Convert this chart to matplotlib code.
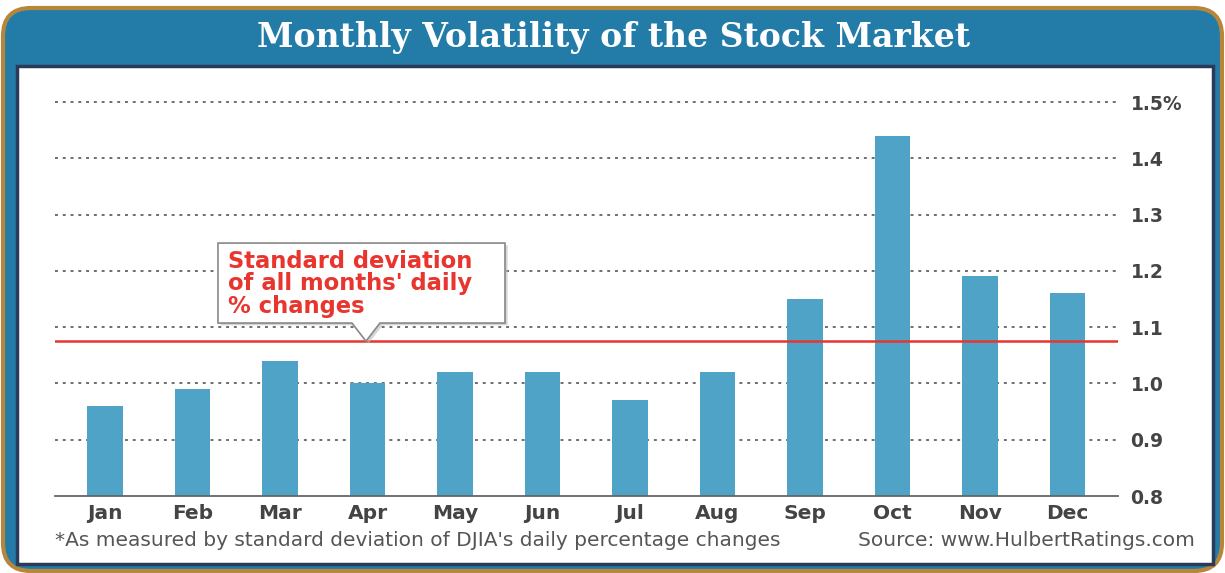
import matplotlib
matplotlib.use("Agg")
import matplotlib.pyplot as plt
from matplotlib.patches import FancyBboxPatch, Polygon, Rectangle
from matplotlib.transforms import IdentityTransform

months = ["Jan", "Feb", "Mar", "Apr", "May", "Jun", "Jul", "Aug", "Sep", "Oct", "Nov", "Dec"]
volatility = [0.96, 0.99, 1.04, 1.00, 1.02, 1.02, 0.97, 1.02, 1.15, 1.44, 1.19, 1.16]
all_months_sd = 1.075
y_ticks = [0.8, 0.9, 1.0, 1.1, 1.2, 1.3, 1.4, 1.5]
y_tick_labels = ["0.8", "0.9", "1.0", "1.1", "1.2", "1.3", "1.4", "1.5%"]
title = "Monthly Volatility of the Stock Market"
callout = "Standard deviation\nof all months' daily\n% changes"
footnote = "*As measured by standard deviation of DJIA's daily percentage changes"
source = "Source: www.HulbertRatings.com"

W, H = 1225, 573
fig = plt.figure(figsize=(W / 100, H / 100), dpi=100)
fig.patch.set_facecolor("white")

# outer gold frame with blue fill
fig.patches.append(FancyBboxPatch((3, 2), W - 6, H - 10,
                                  boxstyle="round,pad=0,rounding_size=28",
                                  transform=IdentityTransform(), facecolor="#237CA8",
                                  edgecolor="#B8863B", linewidth=3, zorder=0))
# white panel with navy border
fig.patches.append(Rectangle((17, H - 564), 1196, 498, transform=IdentityTransform(),
                             facecolor="white", edgecolor="#2A3B5A", linewidth=2.5, zorder=1))

fig.text(614 / W, 1 - 38 / H, title, ha="center", va="center", color="white",
         fontsize=23.8, fontweight="bold", family="DejaVu Serif", zorder=3)

ax = fig.add_axes([55 / W, 1 - 496 / H, (1118 - 55) / W, (496 - 102) / H])
ax.set_zorder(5)
ax.set_facecolor("none")
x = list(range(len(months)))
ax.set_xlim(-0.571, 11.577)
ax.set_ylim(0.8, 1.5)

for t in y_ticks[1:]:
    ax.axhline(t, color="#6E6E6E", linestyle=(0, (1.5, 2.5)), linewidth=1.4, zorder=1,
               clip_on=False)
ax.axhline(0.8, color="#666666", linewidth=1.3, zorder=3, clip_on=False)

ax.bar(x, [v - 0.8 for v in volatility], bottom=0.8, width=0.41, color="#4FA3C7", zorder=2)
ax.axhline(all_months_sd, color="#E8352E", linewidth=1.8, zorder=4)

for s in ax.spines.values():
    s.set_visible(False)
ax.set_xticks(x)
ax.set_xticklabels(months, fontsize=14.5, fontweight="bold", color="#444444", family="DejaVu Sans")
ax.tick_params(axis="x", length=0, pad=6)
ax.yaxis.tick_right()
ax.set_yticks(y_ticks)
ax.set_yticklabels(y_tick_labels, fontsize=13.5, fontweight="bold", color="#444444", family="DejaVu Sans")
ax.tick_params(axis="y", length=0, pad=9)

# callout box
bx0, bx1 = (218 - 105) / 87.5, (505 - 105) / 87.5
by1, by0 = 0.8 + (496 - 243) / 563, 0.8 + (496 - 323) / 563
pl, pr, tip = (352 - 105) / 87.5, (380 - 105) / 87.5, (366 - 105) / 87.5
verts = [(bx0, by1), (bx1, by1), (bx1, by0), (pr, by0), (tip, all_months_sd),
         (pl, by0), (bx0, by0)]
shadow = Polygon([(vx + 0.03, vy - 0.004) for vx, vy in verts], closed=True,
                 facecolor="#BBBBBB", edgecolor="none", zorder=5, alpha=0.6)
ax.add_patch(shadow)
ax.add_patch(Polygon(verts, closed=True, facecolor="white", edgecolor="#888888",
                     linewidth=1.2, zorder=6))
ax.text((228 - 105) / 87.5, 0.8 + (496 - 250) / 563, callout, ha="left", va="top",
        color="#E8352E", fontsize=16.3, fontweight="bold", family="DejaVu Sans",
        linespacing=0.96, zorder=7)

fig.text(55 / W, 1 - 541 / H, footnote, ha="left", va="center", color="#555555",
         fontsize=14.5, family="DejaVu Sans", zorder=3)
fig.text(1195 / W, 1 - 541 / H, source, ha="right", va="center", color="#555555",
         fontsize=14.5, family="DejaVu Sans", zorder=3)

fig.savefig("out.png", dpi=100, facecolor="white")
